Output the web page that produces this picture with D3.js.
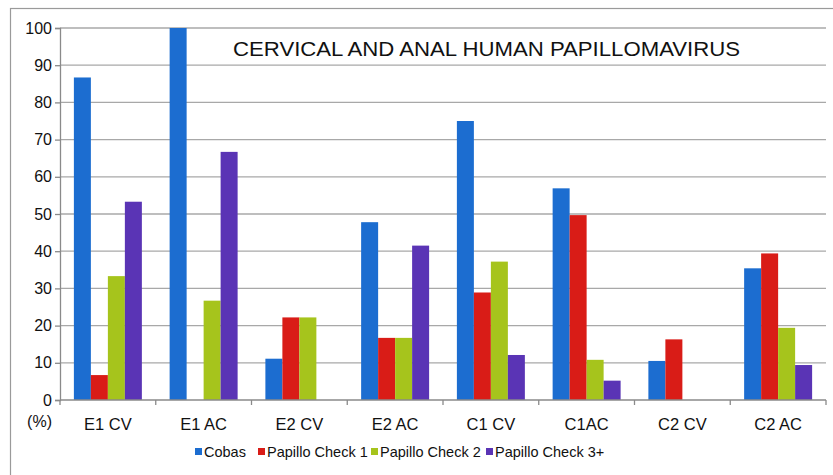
<!DOCTYPE html>
<html>
<head>
<meta charset="utf-8">
<script src="https://cdn.jsdelivr.net/npm/d3@7"></script>
<style>
  body { margin: 0; background: #fff; }
  svg { display: block; }
</style>
</head>
<body>
<svg id="chart" width="833" height="475"></svg>
<script>
// data
const categories = ["E1 CV", "E1 AC", "E2 CV", "E2 AC", "C1 CV", "C1AC", "C2 CV", "C2 AC"];
const seriesNames = ["Cobas", "Papillo Check 1", "Papillo Check 2", "Papillo Check 3+"];
const cobas    = [86.7, 100, 11.1, 47.8, 75.0, 56.9, 10.5, 35.4];
const check1   = [6.7, 0, 22.2, 16.7, 28.9, 49.7, 16.3, 39.4];
const check2   = [33.3, 26.7, 22.2, 16.7, 37.2, 10.8, 0, 19.4];
const check3   = [53.3, 66.7, 0, 41.5, 12.1, 5.2, 0, 9.4];
const yTicks   = [0, 10, 20, 30, 40, 50, 60, 70, 80, 90, 100];
const title    = "CERVICAL AND ANAL HUMAN PAPILLOMAVIRUS";

const colors = ["#1c6dd0", "#d91c17", "#a6c41c", "#5a34b5"];
const font = "'Liberation Sans', Arial, sans-serif";

const width = 833, height = 475;
const margin = { top: 28, right: 7, bottom: 75, left: 60 };

const series = [cobas, check1, check2, check3].map((values, i) => ({
    name: seriesNames[i],
    values: values
}));

const svg = d3.select("#chart");

// outer frame
svg.append("rect")
    .attr("x", 10.5).attr("y", 8.5)
    .attr("width", width + 20).attr("height", height + 20)
    .attr("fill", "none")
    .attr("stroke", "#9a9a9a")
    .attr("stroke-width", 1.2);

const xscale = d3.scaleBand()
    .domain(categories)
    .range([margin.left, width - margin.right])
    .paddingInner(0.29)
    .paddingOuter(0.145);

const xsub = d3.scaleBand()
    .domain(d3.range(series.length))
    .range([0, xscale.bandwidth()]);

const yscale = d3.scaleLinear()
    .domain([0, 100])
    .range([height - margin.bottom, margin.top]);

// grid
svg.append("g")
    .attr("stroke", "#a8a8a8")
    .attr("stroke-width", 1.3)
    .selectAll("line")
    .data(yTicks.filter(d => d > 0))
    .join("line")
    .attr("x1", margin.left)
    .attr("x2", width - margin.right)
    .attr("y1", d => yscale(d))
    .attr("y2", d => yscale(d));

// y axis
svg.append("g")
    .attr("transform", `translate(${margin.left},0)`)
    .call(d3.axisLeft(yscale).tickValues(yTicks).tickSize(5).tickPadding(3))
    .call(g => g.selectAll("path, line").attr("stroke", "#8a8a8a").attr("stroke-width", 1.3))
    .call(g => g.selectAll("text")
        .attr("font-family", font)
        .attr("font-size", 16)
        .attr("fill", "#111"));

// bars
svg.append("g")
    .selectAll("g")
    .data(series)
    .join("g")
    .attr("fill", (d, i) => colors[i])
    .selectAll("rect")
    .data((d, i) => d.values.map((v, j) => ({ v: v, cat: categories[j], s: i })))
    .join("rect")
    .attr("x", d => xscale(d.cat) + xsub(d.s))
    .attr("width", xsub.bandwidth())
    .attr("y", d => yscale(d.v))
    .attr("height", d => yscale(0) - yscale(d.v));

// x axis: line with ticks at category boundaries
const step = xscale.step();
const xAxisG = svg.append("g")
    .attr("transform", `translate(0,${yscale(0)})`);
xAxisG.append("line")
    .attr("x1", margin.left).attr("x2", width - margin.right)
    .attr("stroke", "#8a8a8a").attr("stroke-width", 1.3);
xAxisG.selectAll("line.tick")
    .data(d3.range(categories.length + 1))
    .join("line")
    .attr("class", "tick")
    .attr("x1", i => margin.left + i * step)
    .attr("x2", i => margin.left + i * step)
    .attr("y1", 0).attr("y2", 5)
    .attr("stroke", "#8a8a8a").attr("stroke-width", 1.3);
xAxisG.selectAll("text")
    .data(categories)
    .join("text")
    .attr("x", d => xscale(d) + xscale.bandwidth() / 2)
    .attr("y", 30)
    .attr("text-anchor", "middle")
    .attr("font-family", font)
    .attr("font-size", 16.5)
    .attr("fill", "#111")
    .text(d => d);

svg.append("text")
    .attr("x", 52).attr("y", yscale(0) + 27)
    .attr("text-anchor", "end")
    .attr("font-family", font)
    .attr("font-size", 16)
    .attr("fill", "#111")
    .text("(%)");

// title
svg.append("text")
    .attr("x", 233).attr("y", 55.5)
    .attr("font-family", font)
    .attr("font-size", 20)
    .attr("textLength", 507)
    .attr("lengthAdjust", "spacingAndGlyphs")
    .attr("fill", "#111")
    .text(title);

// legend
const legendX = [195, 258, 371, 486];
const legend = svg.append("g")
    .attr("font-family", font)
    .attr("font-size", 14.5)
    .attr("fill", "#111");
const item = legend.selectAll("g")
    .data(series)
    .join("g")
    .attr("transform", (d, i) => `translate(${legendX[i]},457)`);
item.append("rect")
    .attr("x", 0).attr("y", -9)
    .attr("width", 7).attr("height", 7)
    .attr("fill", (d, i) => colors[i]);
item.append("text")
    .attr("x", 9).attr("y", 0)
    .text(d => d.name);
</script>
</body>
</html>
